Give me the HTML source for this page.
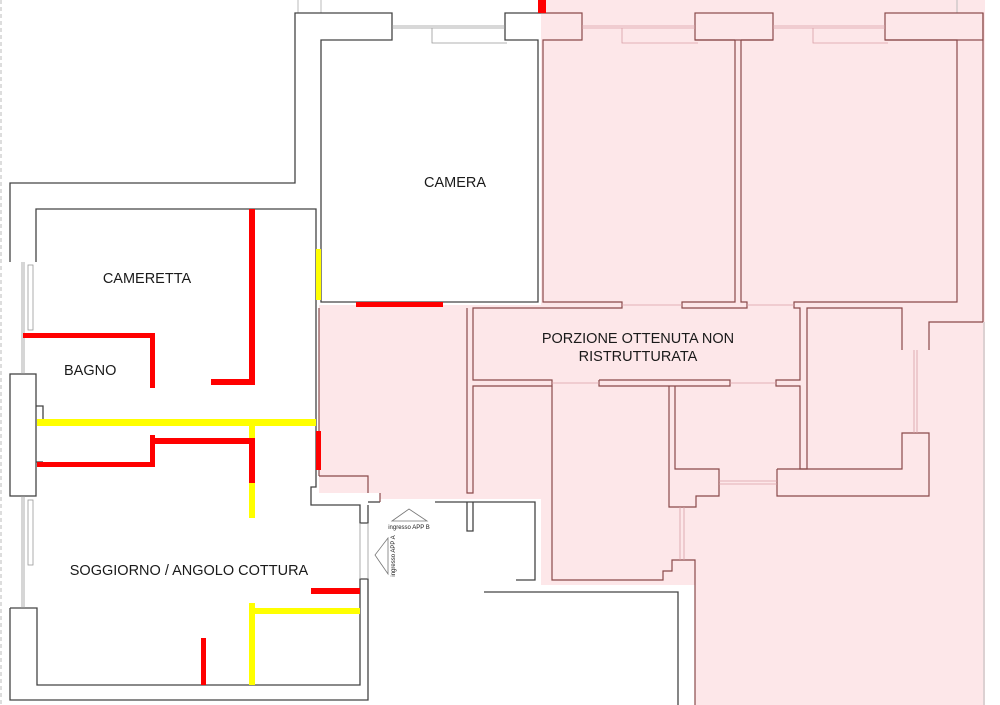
<!DOCTYPE html>
<html><head><meta charset="utf-8"><style>
html,body{margin:0;padding:0;background:#fff;width:1000px;height:705px;overflow:hidden}
svg{display:block}
text{font-family:"Liberation Sans",sans-serif;fill:#1a1a1a}
</style></head><body>
<svg width="1000" height="705" viewBox="0 0 1000 705" xmlns="http://www.w3.org/2000/svg">
<!-- pink area -->
<polygon points="541,0 985,0 985,705 695,705 695,585 541,585 541,499 380,499 380,493 319,493 319,305 541,305" fill="#fde7e9"/>
<line x1="1" y1="0" x2="1" y2="705" stroke="#bbb" stroke-dasharray="4,3"/>
<g fill="none" stroke="#bbb" stroke-width="1">
<line x1="298" y1="0" x2="298" y2="13"/><line x1="321" y1="0" x2="321" y2="13"/>
<line x1="957" y1="0" x2="957" y2="13"/>
<line x1="984" y1="322" x2="984" y2="705"/>
</g>
<!-- black walls left apt -->
<g fill="none" stroke="#444" stroke-width="1.3">
<polyline points="10,262 10,183 295,183 295,13 392,13 392,40 321,40 321,302 538,302 538,40 505,40 505,13 541,13"/>
<polyline points="36,262 36,209 316,209 316,487 311,487 311,505 360,505 360,523 368,523 368,505"/>
<rect x="10" y="374" width="26" height="122"/>
<polyline points="36,406 43,406 43,419"/>
<polyline points="36,462 43,462"/>
<polyline points="10,608 10,700 368,700 368,579 360,579 360,685 37,685 37,608 10,608"/>
<polyline points="368,502 380,502"/><polyline points="435,502 535,502 535,580 516,580"/>
<polyline points="467,502 467,531 473,531 473,502"/>
<polyline points="484,592 678,592 678,705"/>
</g>
<!-- windows -->
<g fill="none" stroke="#999" stroke-width="0.8">
<line x1="392" y1="26" x2="505" y2="26"/><line x1="392" y1="28" x2="505" y2="28"/>
<polyline points="432,28 432,43 507,43"/>
<line x1="22" y1="262" x2="22" y2="374"/><line x1="24" y1="262" x2="24" y2="374"/>
<rect x="28" y="265" width="5" height="65"/>
<line x1="22" y1="496" x2="22" y2="608"/><line x1="24" y1="496" x2="24" y2="608"/>
<rect x="28" y="500" width="5" height="65"/>
<line x1="360" y1="523" x2="360" y2="579"/><line x1="368" y1="523" x2="368" y2="579"/>
</g>
<!-- pink walls -->
<g fill="none" stroke="#8a4a4a" stroke-width="1.2">
<polyline points="541,13 582,13 582,40 543,40 543,302 622,302 622,308 473,308 473,380 552,380 552,386 473,386 473,493 467,493 467,323 467,308"/>
<rect x="695" y="13" width="78" height="27"/>
<rect x="885" y="13" width="98" height="27"/>
<line x1="983" y1="13" x2="983" y2="322"/>
<polyline points="741,40 773,40"/>
<polyline points="735,40 695,40"/>
<polyline points="735,40 735,302 682,302 682,308 747,308 747,302 741,302 741,40"/>
<polyline points="885,40 957,40 957,302 794,302 794,308 800,308 800,380 776,380 776,386 800,386 800,469 807,469 807,308 902,308 902,350"/>
<polyline points="983,322 929,322 929,350"/>
<polyline points="599,380 730,380 730,386 599,386 599,380"/>
<polyline points="319,476 368,476 368,493"/>
<polyline points="380,493 380,502"/>
<polyline points="552,386 552,580 663,580 663,571 672,571 672,560 695,560 695,705"/>
<polyline points="669,386 669,507 696,507 696,496 719,496 719,469 675,469 675,386"/>
<polyline points="777,469 902,469 902,433 929,433 929,496 777,496 777,469"/>
<line x1="319" y1="308" x2="319" y2="476"/>
</g>
<g fill="none" stroke="#d9a0a6" stroke-width="0.8">
<line x1="582" y1="26" x2="695" y2="26"/><line x1="582" y1="28" x2="695" y2="28"/>
<polyline points="622,28 622,43 698,43"/>
<line x1="773" y1="26" x2="885" y2="26"/><line x1="773" y1="28" x2="885" y2="28"/>
<polyline points="813,28 813,43 888,43"/>
<line x1="914" y1="350" x2="914" y2="433"/><line x1="917" y1="350" x2="917" y2="433"/>
<line x1="719" y1="481" x2="777" y2="481"/><line x1="719" y1="484" x2="777" y2="484"/>
<line x1="680" y1="507" x2="680" y2="560"/><line x1="684" y1="507" x2="684" y2="560"/>
<line x1="552" y1="383" x2="599" y2="383"/><line x1="730" y1="383" x2="776" y2="383"/>
<line x1="622" y1="305" x2="682" y2="305"/><line x1="747" y1="305" x2="794" y2="305"/>
</g>
<!-- red & yellow -->
<g fill="#ff0000">
<rect x="538" y="0" width="8" height="13"/>
<rect x="356" y="302" width="87" height="5"/>
<rect x="249" y="209" width="6" height="176"/>
<rect x="211" y="379" width="44" height="6"/>
<rect x="23" y="333" width="132" height="5"/>
<rect x="150" y="333" width="5" height="55"/>
<rect x="249" y="438" width="6" height="45"/>
<rect x="154" y="438" width="101" height="6"/>
<rect x="150" y="435" width="5" height="32"/>
<rect x="37" y="462" width="118" height="5"/>
<rect x="316" y="431" width="5" height="39"/>
<rect x="311" y="588" width="49" height="6"/>
<rect x="201" y="638" width="5" height="47"/>
</g>
<g fill="#ffff00">
<rect x="316" y="249" width="5" height="51"/>
<rect x="37" y="419" width="279" height="7"/>
<rect x="249" y="426" width="6" height="12"/>
<rect x="249" y="483" width="6" height="35"/>
<rect x="250" y="608" width="110" height="6"/>
<rect x="249" y="603" width="6" height="82"/>
</g>
<!-- entrance markers -->
<g fill="none" stroke="#777" stroke-width="0.8">
<polygon points="392,521 409,509 427,521"/>
<polygon points="388,538 375,555 388,574"/>
</g>
<text x="409" y="529" font-size="6" text-anchor="middle" fill="#555">ingresso APP B</text>
<text x="0" y="0" font-size="6" text-anchor="middle" fill="#555" transform="translate(395,556) rotate(-90)">ingresso APP A</text>
<!-- labels -->
<g font-size="14.5">
<text x="455" y="187" text-anchor="middle">CAMERA</text>
<text x="147" y="283" text-anchor="middle">CAMERETTA</text>
<text x="64" y="375">BAGNO</text>
<text x="638" y="343" text-anchor="middle">PORZIONE OTTENUTA NON</text>
<text x="638" y="361" text-anchor="middle">RISTRUTTURATA</text>
<text x="189" y="575" text-anchor="middle">SOGGIORNO / ANGOLO COTTURA</text>
</g>
</svg>
</body></html>
